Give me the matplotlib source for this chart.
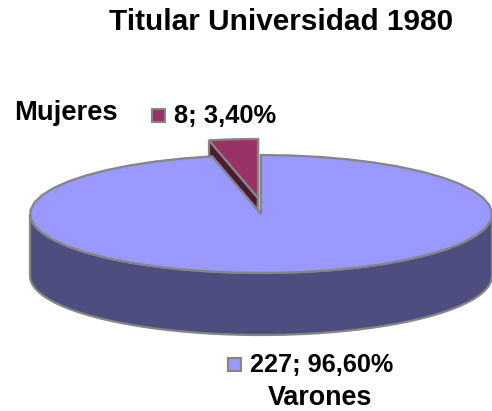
import matplotlib
matplotlib.use('Agg')
import matplotlib.pyplot as plt
import numpy as np

plt.rcParams['font.family'] = ['Liberation Sans', 'DejaVu Sans']

categories = ['Varones', 'Mujeres']
counts = [227, 8]
percent_labels = ['96,60%', '3,40%']
title = 'Titular Universidad 1980'

CX, CY = 260, 214
RX, RY = 231, 59
DEPTH = 62
EDGE = '#858585'

def pie_xy(frac, cx=CX, cy=CY):
    # frac is measured clockwise from 12 o'clock
    a = 2 * np.pi * np.asarray(frac)
    return cx + RX * np.sin(a), cy - RY * np.cos(a)

def draw_slice(ax, start, end, cx, cy, top, side, z):
    f = np.linspace(start, end, 48)
    x, y = pie_xy(f, cx, cy)
    # cut faces, then the front wall, then the top face over them
    for xe, ye in [(x[0], y[0]), (x[-1], y[-1])]:
        ax.fill([cx, xe, xe, cx], [cy, ye, ye + DEPTH, cy + DEPTH], fc=side, ec=EDGE, lw=1.6, zorder=z)
    lo, hi = max(start, 0.25), min(end, 0.75)
    if hi > lo:
        fx, fy = pie_xy(np.linspace(lo, hi, 48), cx, cy)
        ax.fill(np.r_[fx, fx[::-1]], np.r_[fy, fy[::-1] + DEPTH], fc=side, ec=EDGE, lw=1.6, zorder=z + 1)
    ax.fill(np.r_[cx, x], np.r_[cy, y], fc=top, ec=EDGE, lw=1.6, zorder=z + 2)

fig = plt.figure(figsize=(4.92, 4.11), dpi=100)
ax = fig.add_axes([0, 0, 1, 1])
ax.set_xlim(0, 492)
ax.set_ylim(411, 0)
ax.axis('off')

total = sum(counts)
share = counts[0] / total

# small slice sits behind, pulled out up and to the left
draw_slice(ax, share, 1, CX - 2, CY - 16, '#993366', '#4d1a33', 2)
draw_slice(ax, 0, share, CX + 1, CY, '#9999ff', '#4d4d80', 6)

ax.text(281.5, 22, title, fontsize=21.4, fontweight='bold', ha='center', va='center')
ax.text(65.5, 113, categories[1], fontsize=19.7, fontweight='bold', ha='center', va='center')
ax.text(320.5, 398, categories[0], fontsize=19.4, fontweight='bold', ha='center', va='center')
ax.text(174, 116, f'{counts[1]}; {percent_labels[1]}', fontsize=18.4, fontweight='bold', ha='left', va='center')
ax.text(250, 364.5, f'{counts[0]}; {percent_labels[0]}', fontsize=18.2, fontweight='bold', ha='left', va='center')

ax.add_patch(plt.Rectangle((152, 109), 13, 13, fc='#993366', ec=EDGE, lw=1.5))
ax.add_patch(plt.Rectangle((228, 358), 13, 13, fc='#9999ff', ec=EDGE, lw=1.5))

fig.savefig('out.png', dpi=100)
